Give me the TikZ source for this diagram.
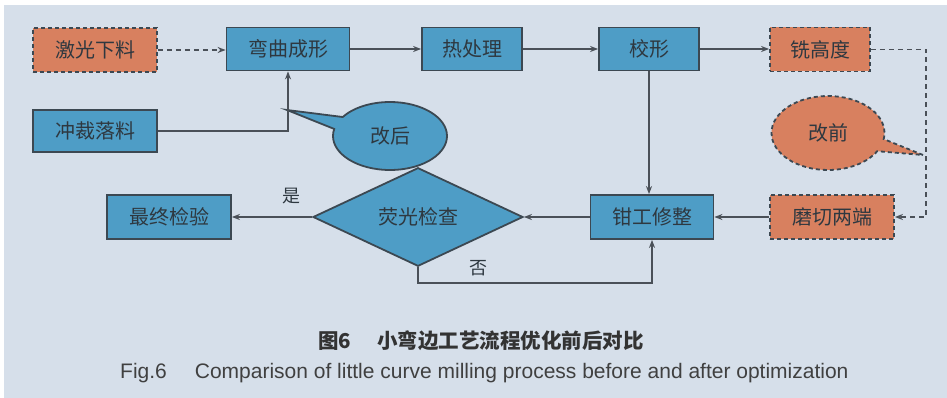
\documentclass[tikz,border=0pt]{standalone}
\usepackage{fontspec}
\newfontfamily\cjk{Noto Sans CJK SC}
\newfontfamily\arial{Liberation Sans}
\usetikzlibrary{shapes.geometric,shapes.callouts,arrows.meta}
\definecolor{bgc}{HTML}{D6DFEA}
\definecolor{boxblue}{HTML}{4E9DC6}
\definecolor{boxorange}{HTML}{D8805F}
\definecolor{edgec}{HTML}{3C4852}
\definecolor{linec}{HTML}{4A5058}
\definecolor{txtc}{HTML}{2E3840}
\tikzset{
  bluebox/.style={draw=edgec, line width=1.8pt, fill=boxblue, rectangle, inner sep=0pt, text=txtc, font=\cjk\fontsize{20}{20}\selectfont},
  orangebox/.style={bluebox, fill=boxorange, dashed, dash pattern=on 4pt off 3pt},
  conn/.style={draw=linec, line width=1.8pt, -{Stealth[length=8pt,width=6pt]}},
  dconn/.style={conn, dash pattern=on 5pt off 4pt},
  lbl/.style={text=txtc, font=\cjk\fontsize{18}{18}\selectfont}
}
\begin{document}
\begin{tikzpicture}[x=1pt,y=-1pt]
\useasboundingbox (0,0) rectangle (947,398);
\fill[bgc] (4,5) rectangle (947,398);
% nodes
\node[orangebox, minimum width=124pt, minimum height=44pt] (jg) at (95,50) {激光下料};
\node[bluebox, minimum width=123pt, minimum height=43pt] (wq) at (288,49) {弯曲成形};
\node[bluebox, minimum width=100pt, minimum height=43pt] (rcl) at (472,49) {热处理};
\node[bluebox, minimum width=100pt, minimum height=43pt] (jx) at (649,49) {校形};
\node[orangebox, minimum width=100pt, minimum height=44pt] (xgd) at (820,49.5) {铣高度};
\node[bluebox, minimum width=124pt, minimum height=42pt] (cc) at (95,131) {冲裁落料};
\node[orangebox, minimum width=124pt, minimum height=44pt] (mq) at (832,217) {磨切两端};
\node[bluebox, minimum width=123pt, minimum height=44pt] (qg) at (652,217) {钳工修整};
\node[bluebox, diamond, minimum width=210pt, minimum height=79pt] (yg) at (418,217) {荧光检查};
\node[bluebox, minimum width=124pt, minimum height=44pt] (zz) at (169,217) {最终检验};
\node[bluebox, ellipse callout, minimum width=114pt, minimum height=68pt, callout absolute pointer={(287,110)}, callout pointer arc=22] (gh) at (390,136) {改后};
\node[orangebox, ellipse callout, minimum width=113pt, minimum height=74pt, callout absolute pointer={(923,155)}, callout pointer arc=20] (gq) at (828,133) {改前};
% connectors
\draw[dconn] (jg.east) -- (jg.east -| wq.west);
\draw[conn] (wq.east) -- (rcl.west);
\draw[conn] (rcl.east) -- (jx.west);
\draw[conn] (jx.east) -- (jx.east -| xgd.west);
\draw[conn] (cc.east) -| (wq.south);
\draw[conn] (jx.south) -- (jx.south |- qg.north);
\coordinate (rc) at (926,49.5);
\draw[dconn] (xgd.east) -- (rc) |- (mq.east);
\draw[conn] (mq.west) -- (qg.east);
\draw[conn] (qg.west) -- (yg.east);
\draw[conn] (yg.west) -- (zz.east);
\node[lbl] (shi) at (291,196) {是};
\coordinate (nb) at (652,283);
\draw[conn] (yg.south) |- (nb) -- (qg.south);
\node[lbl] (fou) at (478,268) {否};
% caption
\node[text=black!80, font=\cjk\bfseries\fontsize{20.5}{20.5}\selectfont, anchor=west, inner sep=0pt] (cap1) at (318,341) {图6\hspace{26pt}小弯边工艺流程优化前后对比};
\node[text=black!75, font=\arial\fontsize{21}{21}\selectfont, anchor=west, inner sep=0pt] (cap2) at (120,373) {Fig.6\hspace{28pt}Comparison of little curve milling process before and after optimization};
\end{tikzpicture}
\end{document}
